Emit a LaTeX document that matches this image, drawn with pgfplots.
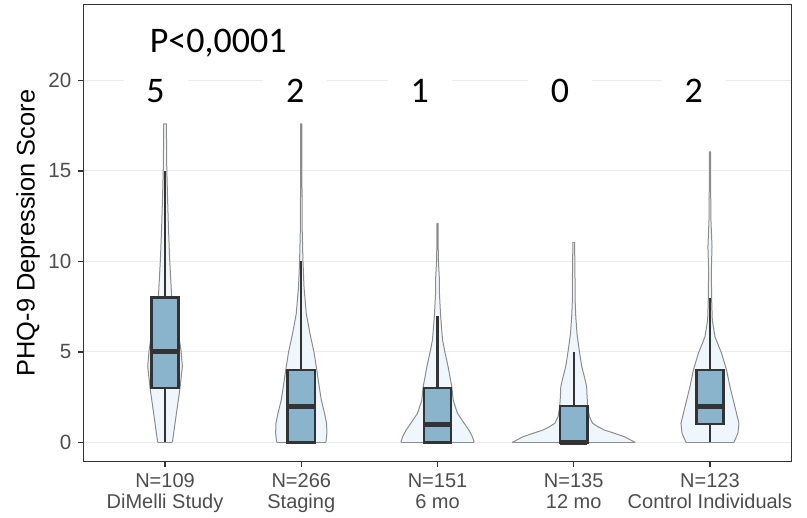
\documentclass[border=0pt]{standalone}
\usepackage{fontspec}
\setmainfont{Liberation Sans}
\newfontfamily\calibri{Carlito}
\usepackage{pgfplots}
\usepackage{pgfplotstable}
\pgfplotsset{compat=1.18}
\usepgfplotslibrary{statistics}

\definecolor{vfill}{RGB}{240,247,252}
\definecolor{vline}{RGB}{140,140,140}
\definecolor{boxfill}{RGB}{138,180,204}
\definecolor{boxline}{RGB}{51,51,51}
\definecolor{gridgray}{RGB}{235,235,235}
\definecolor{ticktext}{RGB}{77,77,77}

% violin outlines: offset from the category centre, score
% (right side bottom to top, then left side top to bottom)
\pgfplotstableread{
dx y
0.054 0
0.083 1.57
0.110 3.0
0.127 4.2
0.117 5.1
0.098 6.0
0.068 7.1
0.049 8.0
0.034 10.1
0.024 12.1
0.017 13.9
0.012 15.4
0.010 17.6
-0.010 17.6
-0.012 15.4
-0.017 13.9
-0.024 12.1
-0.034 10.1
-0.049 8.0
-0.068 7.1
-0.098 6.0
-0.117 5.1
-0.127 4.2
-0.110 3.0
-0.083 1.57
-0.054 0
}\vdimelli
\pgfplotstableread{
dx y
0.181 0
0.188 0.5
0.186 1.05
0.171 1.6
0.147 2.34
0.132 3.07
0.115 3.95
0.093 5.0
0.064 6.0
0.037 7.1
0.020 8.6
0.012 10.1
0.007 11.7
0.005 14.5
0.005 17.6
-0.005 17.6
-0.005 14.5
-0.007 11.7
-0.012 10.1
-0.020 8.6
-0.037 7.1
-0.064 6.0
-0.093 5.0
-0.115 3.95
-0.132 3.07
-0.147 2.34
-0.171 1.6
-0.186 1.05
-0.188 0.5
-0.181 0
}\vstaging
\pgfplotstableread{
dx y
0.269 0
0.257 0.3
0.230 0.68
0.196 1.05
0.147 1.6
0.115 2.33
0.105 3.07
0.078 4.17
0.054 5.0
0.037 5.65
0.022 7.1
0.013 8.4
0.014 9.0
0.007 10.0
0.005 10.8
0.004 12.1
-0.004 12.1
-0.005 10.8
-0.007 10.0
-0.014 9.0
-0.013 8.4
-0.022 7.1
-0.037 5.65
-0.054 5.0
-0.078 4.17
-0.105 3.07
-0.115 2.33
-0.147 1.6
-0.196 1.05
-0.230 0.68
-0.257 0.3
-0.269 0
}\vsix
\pgfplotstableread{
dx y
0.450 0
0.372 0.31
0.298 0.50
0.225 0.68
0.176 0.87
0.139 1.05
0.115 1.42
0.103 1.97
0.098 2.52
0.095 3.07
0.078 3.63
0.059 4.18
0.042 5.0
0.024 6.0
0.015 6.94
0.010 7.86
0.009 9.5
0.006 11.05
-0.006 11.05
-0.009 9.5
-0.010 7.86
-0.015 6.94
-0.024 6.0
-0.042 5.0
-0.059 4.18
-0.078 3.63
-0.095 3.07
-0.098 2.52
-0.103 1.97
-0.115 1.42
-0.139 1.05
-0.176 0.87
-0.225 0.68
-0.298 0.50
-0.372 0.31
-0.450 0
}\vtwelve
\pgfplotstableread{
dx y
0.176 0
0.205 0.5
0.213 1.05
0.183 1.97
0.147 3.07
0.122 3.99
0.086 4.9
0.037 5.83
0.017 6.76
0.012 7.98
0.010 9.5
0.015 10.8
0.007 12.3
0.005 14.1
0.005 16.05
-0.005 16.05
-0.005 14.1
-0.007 12.3
-0.015 10.8
-0.010 9.5
-0.012 7.98
-0.017 6.76
-0.037 5.83
-0.086 4.9
-0.122 3.99
-0.147 3.07
-0.183 1.97
-0.213 1.05
-0.205 0.5
-0.176 0
}\vcontrol

\pgfplotsset{
  violin/.style={fill=vfill, draw=vline, line width=0.5pt, line join=round},
  vbase/.style={draw=vline, line width=0.5pt},
  bx/.style={fill=boxfill, draw=boxline, line width=1.2pt,
    boxplot/draw direction=y,
    boxplot/box extend=0.2, boxplot/whisker extend=0,
    boxplot/every median/.style={line width=2.4pt}},
}

\begin{document}
\begin{tikzpicture}
\begin{axis}[
  scale only axis, width=354.2pt, height=228.7pt,
  xmin=0.4, xmax=5.6, ymin=-1.07, ymax=24.2,
  xtick={1,2,3,4,5},
  xticklabels={{N=109\\DiMelli Study},{N=266\\Staging},{N=151\\6 mo},{N=135\\12 mo},{N=123\\Control Individuals}},
  ytick={0,5,10,15,20},
  ymajorgrids, grid style={gridgray, line width=0.5pt},
  axis line style={boxline, line width=0.7pt},
  tick align=outside, tick pos=left, major tick length=2.5pt,
  tick style={boxline, line width=0.7pt},
  tick label style={font=\fontsize{10.3}{12}\selectfont, text=ticktext},
  x tick label style={align=center, font=\fontsize{10}{10.5}\selectfont},
  /pgf/number format/assume math mode=true,
  ylabel={PHQ-9 Depression Score},
  every axis y label/.style={at={(axis description cs:-0.078,0.5)}, rotate=90,
    anchor=center, font=\fontsize{12.7}{14}\selectfont},
]
\coordinate (sw) at (rel axis cs:0,0);
\coordinate (ne) at (rel axis cs:1,1);

\addplot[violin] table[x expr=1+\thisrow{dx}, y=y] {\vdimelli};
\addplot[vbase] coordinates {(0.946,0) (1.054,0)};
\addplot[violin] table[x expr=2+\thisrow{dx}, y=y] {\vstaging};
\addplot[vbase] coordinates {(1.819,0) (2.181,0)};
\addplot[violin] table[x expr=3+\thisrow{dx}, y=y] {\vsix};
\addplot[vbase] coordinates {(2.731,0) (3.269,0)};
\addplot[violin] table[x expr=4+\thisrow{dx}, y=y] {\vtwelve};
\addplot[vbase] coordinates {(3.55,0) (4.45,0)};
\addplot[violin] table[x expr=5+\thisrow{dx}, y=y] {\vcontrol};
\addplot[vbase] coordinates {(4.824,0) (5.176,0)};

\addplot[bx, boxplot prepared={draw position=1, lower whisker=0, lower quartile=3,
  median=5, upper quartile=8, upper whisker=15}] coordinates {};
\addplot[bx, boxplot prepared={draw position=2, lower whisker=0, lower quartile=0,
  median=2, upper quartile=4, upper whisker=10}] coordinates {};
\addplot[bx, boxplot prepared={draw position=3, lower whisker=0, lower quartile=0,
  median=1, upper quartile=3, upper whisker=7}] coordinates {};
\addplot[bx, boxplot prepared={draw position=4, lower whisker=0, lower quartile=0,
  median=0, upper quartile=2, upper whisker=5}] coordinates {};
\addplot[bx, boxplot prepared={draw position=5, lower whisker=0, lower quartile=1,
  median=2, upper quartile=4, upper whisker=8}] coordinates {};

\tikzset{med/.style={font=\calibri\fontsize{18}{20}\selectfont, fill=white,
  minimum width=32pt, inner sep=1pt, anchor=base}}
\node[med] at (axis cs:0.93,18.8) {5};
\node[med] at (axis cs:1.956,18.8) {2};
\node[med] at (axis cs:2.87,18.8) {1};
\node[med] at (axis cs:3.90,18.8) {0};
\node[med] at (axis cs:4.88,18.8) {2};
\node[font=\calibri\fontsize{18}{20}\selectfont, anchor=base] at (axis cs:1.39,21.56) {P<0,0001};
\end{axis}
\pgfresetboundingbox
\path[use as bounding box] ([xshift=-41.65pt,yshift=-28.15pt]sw) rectangle ([xshift=7.65pt,yshift=2.15pt]ne);
\end{tikzpicture}
\end{document}
